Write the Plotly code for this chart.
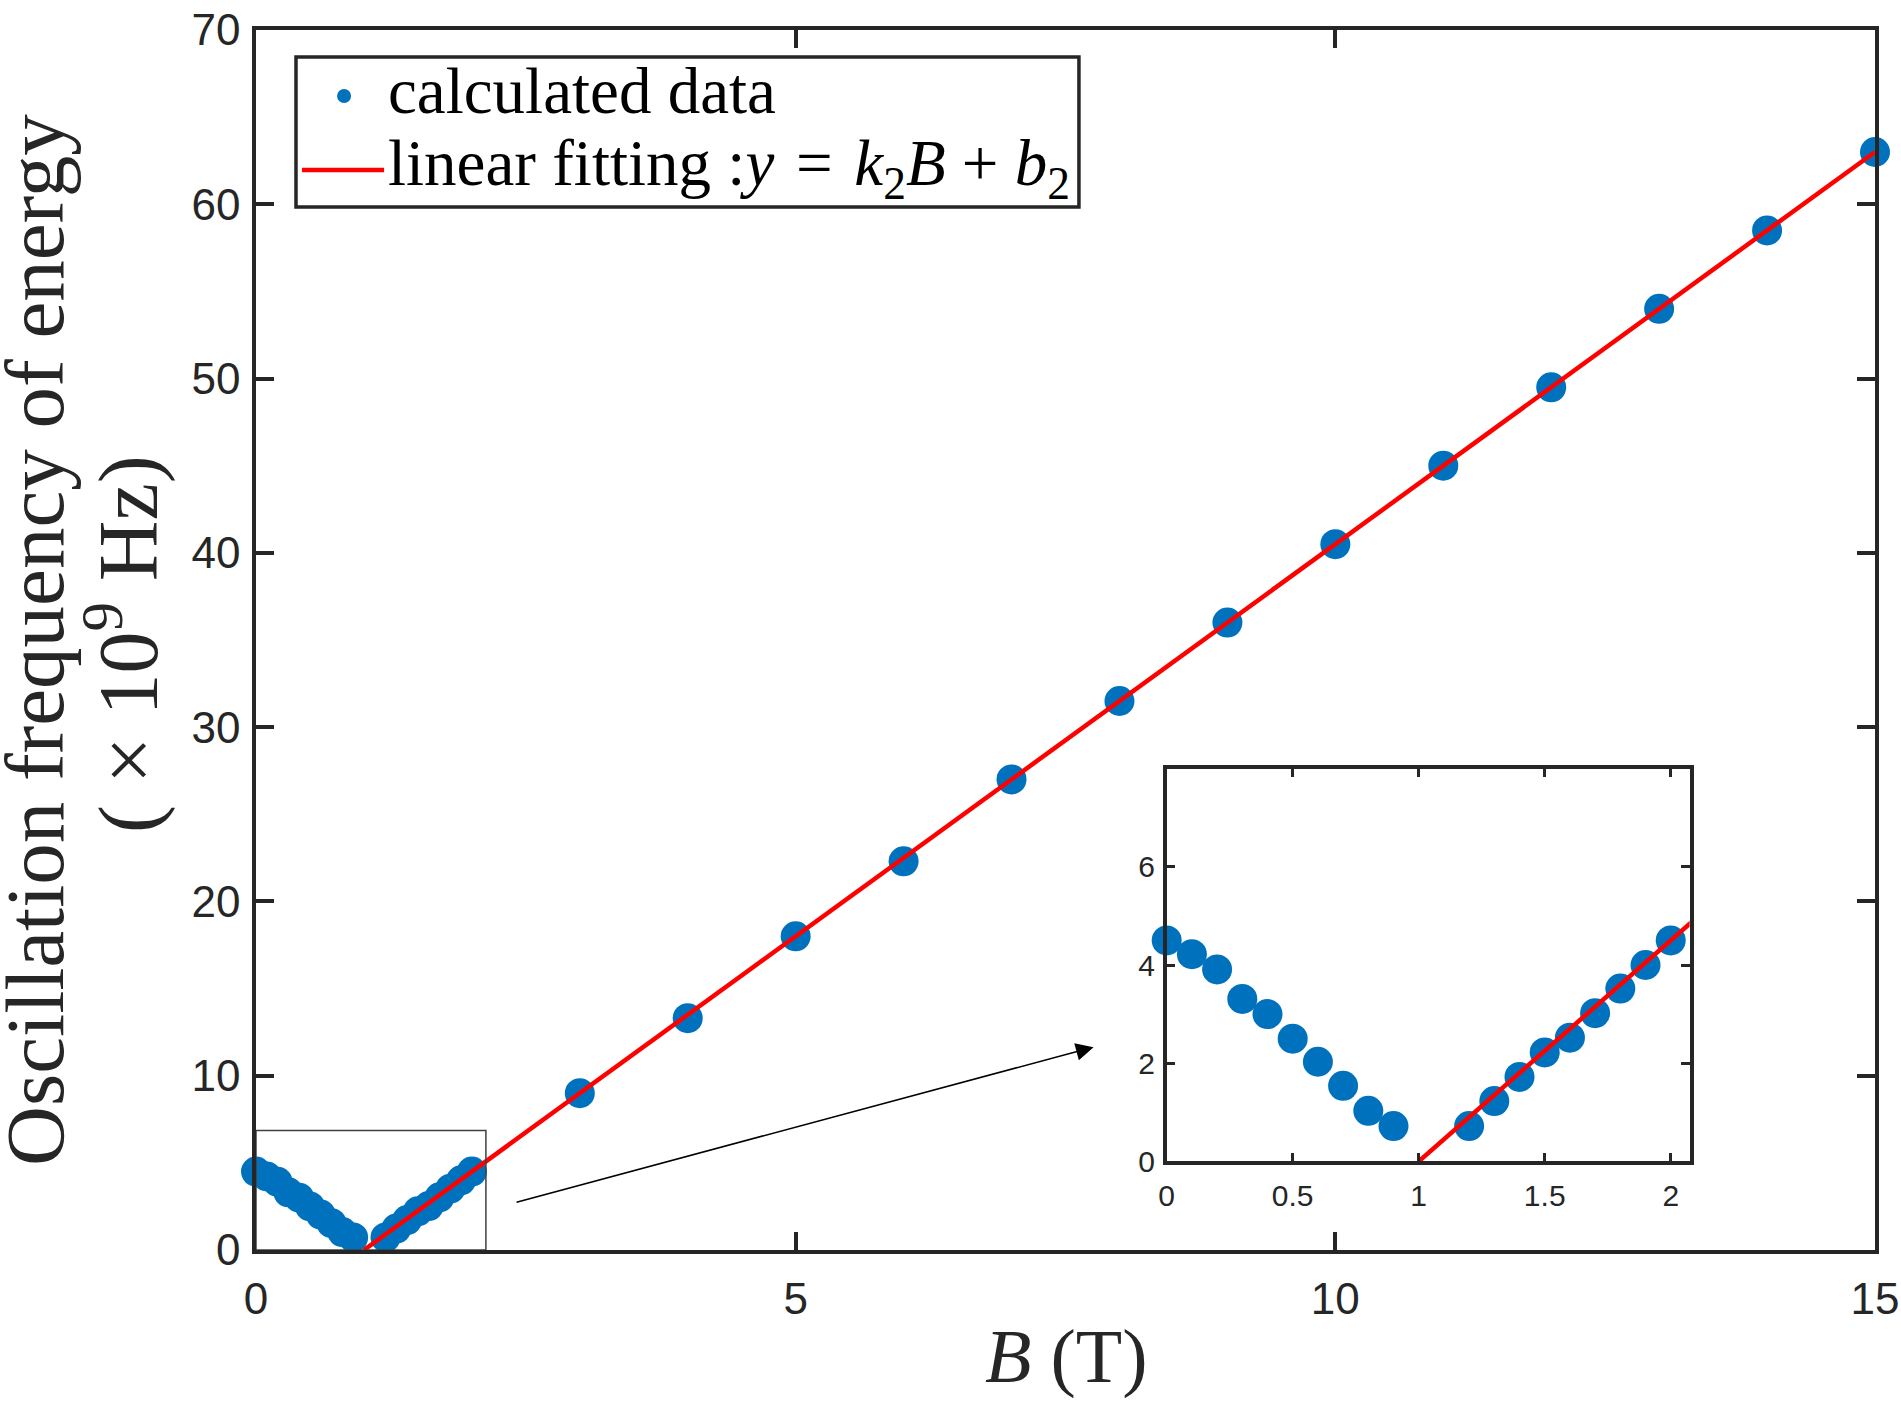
import plotly.graph_objects as go

# low field points (also shown in the inset)
B_low = [0.0, 0.1, 0.2, 0.3, 0.4, 0.5, 0.6, 0.7, 0.8, 0.9,
         1.2, 1.3, 1.4, 1.5, 1.6, 1.7, 1.8, 1.9, 2.0]
f_low = [4.5, 4.22, 3.91, 3.31, 3.0, 2.5, 2.03, 1.54, 1.03, 0.72,
         0.72, 1.23, 1.72, 2.22, 2.52, 3.02, 3.52, 4.0, 4.5]

# high field points
B_high = [3, 4, 5, 6, 7, 8, 9, 10, 11, 12, 13, 14, 15]
f_high = [9.0, 13.3, 18.0, 22.3, 27.0, 31.5, 36.0, 40.5, 45.0, 49.5, 54.0, 58.5, 63.0]

# linear fit y = k2*B + b2 (end points)
fit_B = [1.0, 15.0]
fit_f = [0.0, 63.0]

main_xticks = [0, 5, 10, 15]
main_yticks = [0, 10, 20, 30, 40, 50, 60, 70]
inset_xticks = [0, 0.5, 1, 1.5, 2]
inset_yticks = [0, 2, 4, 6]

blue = '#0072BD'
red = '#FF0000'
axc = '#262626'
serif = 'Liberation Serif'
sans = 'Liberation Sans'

fig = go.Figure()

fig.add_trace(go.Scatter(x=B_low + B_high, y=f_low + f_high, mode='markers',
                         name='calculated data', cliponaxis=False, showlegend=False,
                         marker=dict(color=blue, size=30)))
fig.add_trace(go.Scatter(x=fit_B, y=fit_f, mode='lines', showlegend=False,
                         name='linear fitting',
                         line=dict(color=red, width=4.5)))

# inset
fig.add_trace(go.Scatter(x=B_low, y=f_low, mode='markers', showlegend=False,
                         cliponaxis=False, xaxis='x2', yaxis='y2',
                         marker=dict(color=blue, size=30)))
fig.add_trace(go.Scatter(x=fit_B, y=fit_f, mode='lines', showlegend=False,
                         xaxis='x2', yaxis='y2',
                         line=dict(color=red, width=4.5)))

axis_common = dict(showline=True, linecolor=axc, mirror='ticks', ticks='inside',
                   tickcolor=axc, showgrid=False, zeroline=False, ticklabeloverflow='allow')

fig.update_layout(
    width=1901, height=1404,
    margin=dict(l=256, r=26, t=30, b=154, autoexpand=False),
    paper_bgcolor='white', plot_bgcolor='white',
    font=dict(family=sans, color=axc),
    xaxis=dict(range=[0, 15], tickvals=main_xticks, linewidth=3.5, ticklen=18, tickwidth=3.5,
               tickfont=dict(size=44, family=sans, color=axc), ticklabelstandoff=7,
               **axis_common),
    yaxis=dict(range=[0, 70], tickvals=main_yticks, linewidth=3.5, ticklen=18, tickwidth=3.5,
               tickfont=dict(size=44, family=sans, color=axc), ticklabelstandoff=3,
               **axis_common),
    xaxis2=dict(domain=[0.5625, 0.8855], anchor='y2', range=[0, 2.075], tickvals=inset_xticks,
                linewidth=3.5, ticklen=9, tickwidth=3, ticklabelstandoff=5,
                tickfont=dict(size=30, family=sans, color=axc), **axis_common),
    yaxis2=dict(domain=[0.0726, 0.3946], anchor='x2', range=[0, 8], tickvals=inset_yticks,
                linewidth=3.5, ticklen=9, tickwidth=3, ticklabelstandoff=2,
                tickfont=dict(size=30, family=sans, color=axc), **axis_common),
    showlegend=False,
)

# zoom box and arrow
fig.add_shape(type='rect', xref='x', yref='y', x0=0, x1=2.13, y0=0, y1=6.85,
              line=dict(color='#404040', width=1.5), layer='above')
fig.add_annotation(x=7.76, y=11.64, ax=2.40, ay=2.72, xref='x', yref='y',
                   axref='x', ayref='y', showarrow=True, arrowhead=2,
                   arrowsize=2.2, arrowwidth=1.6, arrowcolor='black', text='')

# legend box drawn by hand (MATLAB style)
fig.add_shape(type='rect', xref='paper', yref='paper', x0=0.0247, x1=0.5083,
              y0=0.8549, y1=0.9779, line=dict(color=axc, width=3.5),
              fillcolor='white', layer='above')
fig.add_shape(type='circle', xref='paper', yref='paper', xsizemode='pixel', ysizemode='pixel',
              xanchor=0.0544, yanchor=0.9459, x0=-7, x1=7, y0=-7, y1=7,
              fillcolor=blue, line=dict(width=0), layer='above')
fig.add_shape(type='line', xref='paper', yref='paper', x0=0.0284, x1=0.0791,
              y0=0.8852, y1=0.8852, line=dict(color=red, width=4.5), layer='above')
fig.add_annotation(text='calculated data', xref='paper', yref='paper', x=0.0806, y=0.9504,
                   xanchor='left', yanchor='middle', showarrow=False,
                   font=dict(family=serif, size=65, color='black'))
fig.add_annotation(text='linear fitting :<i>y</i>\u2004=\u2004<i>k</i><sub>2</sub><i>B</i>\u2005+\u2005<i>b</i><sub>2</sub>',
                   xref='paper', yref='paper', x=0.0806, y=0.8868,
                   xanchor='left', yanchor='middle', showarrow=False,
                   font=dict(family=serif, size=65, color='black'))

# axis titles
fig.add_annotation(text='Oscillation frequency of energy',
                   xref='paper', yref='paper', x=-0.1365, y=0.5, textangle=-90,
                   xanchor='center', yanchor='middle', showarrow=False,
                   font=dict(family=serif, size=83, color=axc))
fig.add_annotation(text='( × 10<sup>9</sup> Hz)',
                   xref='paper', yref='paper', x=-0.0826, y=0.497, textangle=-90,
                   xanchor='center', yanchor='middle', showarrow=False,
                   font=dict(family=serif, size=84, color=axc))
fig.add_annotation(text='<i>B</i> (T)', xref='paper', yref='paper', x=0.5, y=-0.0877,
                   xanchor='center', yanchor='middle', showarrow=False,
                   font=dict(family=serif, size=76, color=axc))

# drop the default 8px body margin so the figure fills the window exactly
fig.write_html('out.html', config={'displayModeBar': False},
               post_script="document.body.style.margin = '0';")
